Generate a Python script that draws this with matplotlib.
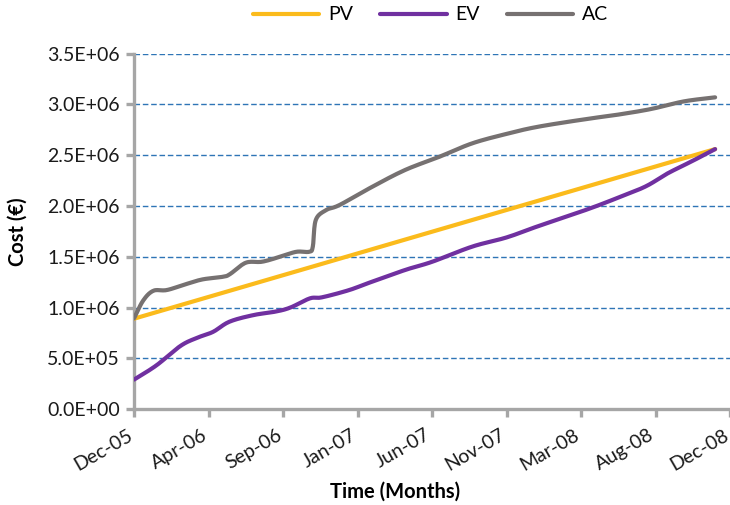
import numpy as np
import matplotlib
matplotlib.use("Agg")
import matplotlib.pyplot as plt
import matplotlib.transforms as mtransforms

# Reporting periods on the category axis (one label every 5 periods)
tick_labels = ["Dec-05", "Apr-06", "Sep-06", "Jan-07", "Jun-07",
               "Nov-07", "Mar-08", "Aug-08", "Dec-08"]

# Planned value: straight baseline
pv_x = [0, 39]
pv = [0.89e6, 2.56e6]

# Earned value
ev_x = [0, 1.5, 3.1, 4.2, 5.3, 6.4, 8.0, 9.5, 10.5, 11.8, 12.6, 14.4, 15.8,
        18.2, 20.0, 22.7, 25.0, 27.1, 30.3, 32.2, 34.3, 35.8, 37.5, 39]
ev = [0.29e6, 0.43e6, 0.62e6, 0.70e6, 0.76e6, 0.86e6, 0.925e6, 0.96e6,
      1.00e6, 1.09e6, 1.10e6, 1.17e6, 1.245e6, 1.37e6, 1.45e6, 1.60e6,
      1.69e6, 1.80e6, 1.96e6, 2.065e6, 2.19e6, 2.32e6, 2.445e6, 2.56e6]

# Actual cost
ac_x = [0, 0.62, 1.3, 2.2, 3.5, 4.6, 5.97, 6.45, 7.5, 8.6, 9.8, 10.9, 11.76,
        12.0, 12.2, 12.9, 13.8, 16.0, 18.2, 20.5, 22.7, 25.0, 27.1, 30.3,
        32.5, 34.7, 36.9, 39]
ac = [0.893e6, 1.07e6, 1.165e6, 1.172e6, 1.231e6, 1.277e6, 1.303e6, 1.33e6,
      1.441e6, 1.451e6, 1.50e6, 1.549e6, 1.549e6, 1.60e6, 1.862e6, 1.96e6,
      2.01e6, 2.19e6, 2.355e6, 2.485e6, 2.617e6, 2.71e6, 2.78e6, 2.855e6,
      2.90e6, 2.955e6, 3.03e6, 3.07e6]


def smooth(x, y, n=12):
    # Catmull-Rom path through the points, like a spreadsheet "smoothed line"
    x = np.asarray(x, float)
    y = np.asarray(y, float)
    if len(x) < 3:
        return x, y
    px = np.concatenate([[2 * x[0] - x[1]], x, [2 * x[-1] - x[-2]]])
    py = np.concatenate([[2 * y[0] - y[1]], y, [2 * y[-1] - y[-2]]])
    t = np.linspace(0, 1, n, endpoint=False)
    xs, ys = [], []
    for i in range(1, len(px) - 2):
        for arr, out in ((px, xs), (py, ys)):
            p0, p1, p2, p3 = arr[i - 1], arr[i], arr[i + 1], arr[i + 2]
            out.append(0.5 * ((2 * p1) + (-p0 + p2) * t
                              + (2 * p0 - 5 * p1 + 4 * p2 - p3) * t ** 2
                              + (-p0 + 3 * p1 - 3 * p2 + p3) * t ** 3))
    xs.append([x[-1]])
    ys.append([y[-1]])
    return np.concatenate(xs), np.concatenate(ys)


plt.rcParams['font.family'] = ['Lato', 'DejaVu Sans']
fs = 14

fig = plt.figure(figsize=(7.3, 5.05), dpi=100)
ax = fig.add_axes([0.1836, 0.19, 0.8164, 0.7037])

spine_col = "#a6a6a6"
ax.set_xlim(0, 40)
ax.set_ylim(0, 3.5e6)
ax.set_yticks(np.arange(0, 3.51e6, 0.5e6))
ax.set_yticklabels([f"{v:.1E}" for v in np.arange(0, 3.51e6, 0.5e6)], fontsize=fs)
ax.set_xticks(np.arange(0, 41, 5))
ax.set_xticklabels(tick_labels, fontsize=fs, rotation=30, ha='right',
                   rotation_mode='anchor')

for v in np.arange(0.5e6, 3.51e6, 0.5e6):
    ax.axhline(v, color="#2e75b6", lw=1.0, ls=(0, (4, 2)), zorder=1)

for side in ("top", "right"):
    ax.spines[side].set_visible(False)
for side in ("left", "bottom"):
    ax.spines[side].set_color(spine_col)
    ax.spines[side].set_linewidth(2.4)
    ax.spines[side].set_zorder(2)
ax.tick_params(axis='both', color=spine_col, width=2.4, length=6,
               direction='out', labelcolor="#1a1a1a")
ax.tick_params(axis='y', pad=4)
ax.tick_params(axis='x', pad=5)

# nudge the slanted date labels left of their ticks (after tick_params,
# which resets the label transforms)
shift = mtransforms.ScaledTranslation(-7 / 100, -2 / 100, fig.dpi_scale_trans)
for tick in ax.xaxis.get_major_ticks():
    tick.label1.set_transform(tick.label1.get_transform() + shift)

ax.plot(*smooth(pv_x, pv), color="#fbbb1c", lw=3.0, label="PV",
        solid_capstyle='round', zorder=3)
ax.plot(*smooth(ev_x, ev), color="#7030a0", lw=3.0, label="EV",
        solid_capstyle='round', zorder=3)
ax.plot(*smooth(ac_x, ac), color="#767171", lw=3.0, label="AC",
        solid_capstyle='round', zorder=3)

ax.set_ylabel("Cost (€)", fontsize=14.5, fontweight='bold', labelpad=14)
ax.set_xlabel("Time (Months)", fontsize=14.5, fontweight='bold')
ax.xaxis.set_label_coords((395 - 134) / 596, -0.205)

fig.legend(loc='upper center', bbox_to_anchor=(0.59, 1.022), ncol=3,
           frameon=False, fontsize=fs, handlelength=3.4, columnspacing=1.4,
           handletextpad=0.45)

fig.savefig("out.png", dpi=100)
